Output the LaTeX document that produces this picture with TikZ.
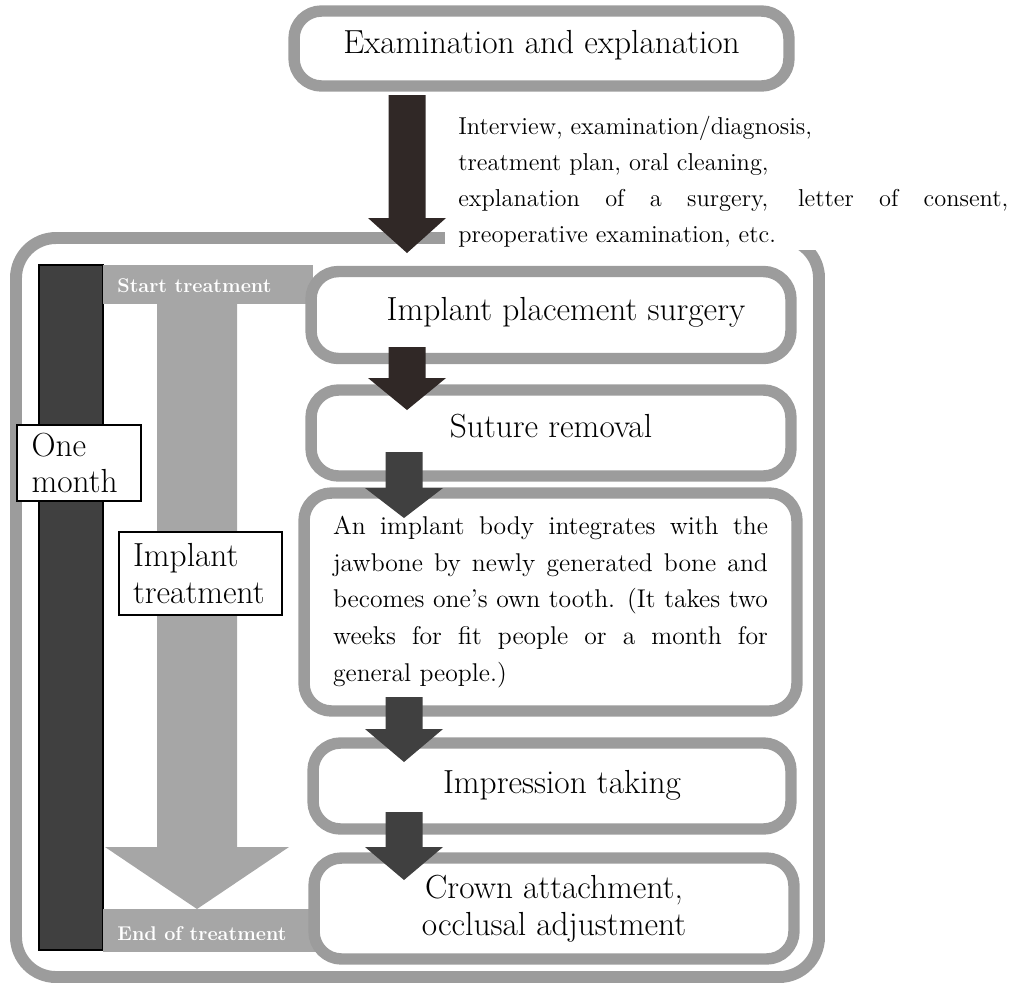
\documentclass[tikz,border=0pt]{standalone}
\usepackage{tikz}
\usetikzlibrary{calc}
\definecolor{rimgray}{HTML}{9C9C9C}
\definecolor{bandgray}{HTML}{A6A6A6}
\definecolor{arrowdark}{HTML}{302826}
\definecolor{bardark}{HTML}{404040}
\newcommand{\bigtxt}{\fontsize{19}{21}\selectfont}
\newcommand{\smalltxt}{\fontsize{13.9}{20.5}\selectfont}
% block arrow: centre x, shaft top, head top, tip
\newcommand{\blockarrow}[5][arrowdark]{%
  \fill[#1] (#2-18.5,#3) -- (#2+18.5,#3) -- (#2+18.5,#4) -- (#2+39,#4)
    -- (#2,#5) -- (#2-39,#4) -- (#2-18.5,#4) -- cycle;}
\tikzset{
  stepbox/.style={draw=rimgray,line width=6.5pt,rounded corners=0.55cm,fill=white,
    inner sep=0pt,align=center,font=\bigtxt},
  tagbox/.style={draw=black,line width=0.8pt,fill=white,align=left,font=\bigtxt,
    inner sep=0pt,text width=#1},
  bandtxt/.style={text=white,font=\fontsize{11.3}{13}\selectfont\bfseries,inner sep=0pt}
}
\begin{document}
\begin{tikzpicture}[x=0.02cm,y=-0.02cm]
\useasboundingbox (0,0) rectangle (1013,985);
% outer frame
\draw[rimgray,line width=6.8pt,rounded corners=0.8cm] (16,238) rectangle (819,977);
% top box
\node[stepbox,minimum width=9.9cm,minimum height=1.5cm] (exam) at (541.5,48.5)
  {\raisebox{7.5pt}{Examination and explanation}};
% notes under the top box
\node[fill=white,anchor=north west,text width=11cm,align=justify,font=\smalltxt,
  inner xsep=0.26cm,inner ysep=2pt] (notes) at (445,112)
  {Interview, examination/diagnosis,\\
   treatment plan, oral cleaning,\\
   explanation of a surgery, letter of consent,\linebreak
   preoperative examination, etc.};
% time bar
\node[draw=black,fill=bardark,line width=0.8pt,minimum width=1.28cm,minimum height=13.7cm,
  inner sep=0pt] (bar) at (71,607.5) {};
% start / end bands and grey arrow
\node[fill=bandgray,minimum width=4.2cm,minimum height=0.78cm,inner sep=0pt,anchor=north west]
  (startband) at (103,265) {};
\node[bandtxt,anchor=west] at ($(startband.west)+(14,1)$) {Start treatment};
\node[fill=bandgray,minimum width=4.36cm,minimum height=0.86cm,inner sep=0pt,anchor=north west]
  (endband) at (103,909) {};
\node[bandtxt,anchor=west] at ($(endband.west)+(14,3)$) {End of treatment};
\fill[bandgray] (157,303) -- (237,303) -- (237,847) -- (289,847) -- (197,909)
  -- (105,847) -- (157,847) -- cycle;
% steps
\node[stepbox,minimum width=9.6cm,minimum height=1.74cm] (place) at (551,315)
  {\raisebox{7pt}{\hspace{0.6cm}Implant placement surgery}};
\node[stepbox,minimum width=9.6cm,minimum height=1.72cm] (suture) at (551,433)
  {\raisebox{8.5pt}{Suture removal}};
\node[stepbox,minimum width=9.86cm,minimum height=4.36cm,align=justify,text width=8.7cm,
  font=\fontsize{14.6}{21}\selectfont] (integ) at (550.5,602)
  {An implant body integrates with the\linebreak
   jawbone by newly generated bone and\linebreak
   becomes one's own tooth. (It takes two\linebreak
   weeks for fit people or a month for\linebreak
   general people.)};
\node[stepbox,minimum width=9.56cm,minimum height=1.72cm] (impr) at (552,786)
  {\raisebox{5pt}{\hspace{0.4cm}Impression taking}};
\node[stepbox,minimum width=9.6cm,minimum height=2.02cm] (crown) at (554,908.5)
  {\raisebox{-1.5pt}{\parbox{6cm}{\centering Crown attachment,\\occlusal adjustment}}};
% labels on the left
\node[tagbox=1.9cm,minimum width=2.48cm,minimum height=1.52cm,inner xsep=0.26cm] (month)
  at (79,463) {One\\month};
\node[tagbox=2.7cm,minimum width=3.26cm,minimum height=1.66cm,inner xsep=0.28cm] (implt)
  at (200.5,573.5) {Implant\\treatment};
% dark arrows between the steps
\blockarrow{407}{95}{218}{253}
\blockarrow{407}{347}{378}{410}
\blockarrow[bardark]{404}{452}{488}{518}
\blockarrow[bardark]{404}{697}{729}{762}
\blockarrow[bardark]{404}{812}{847}{880}
\end{tikzpicture}
\end{document}
